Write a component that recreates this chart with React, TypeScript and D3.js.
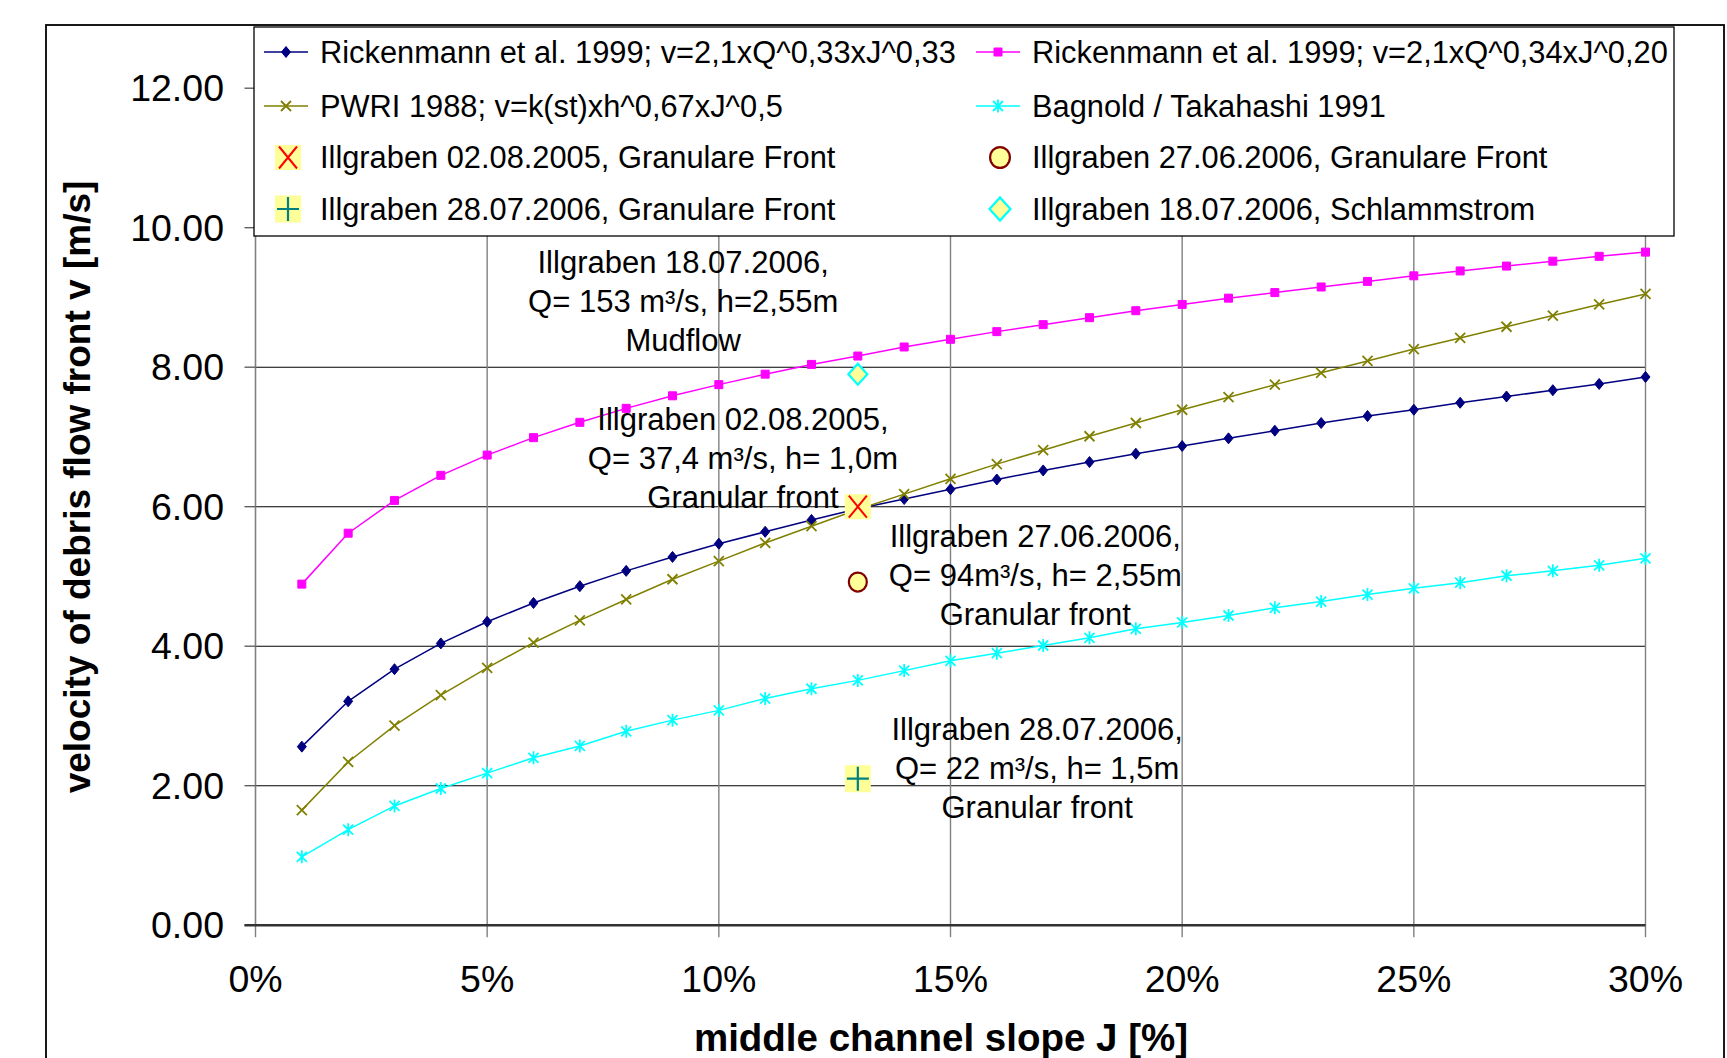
import React from 'react';
import * as d3 from 'd3';

// ---------- data ----------
const slopePct = [1, 2, 3, 4, 5, 6, 7, 8, 9, 10, 11, 12, 13, 14, 15, 16, 17, 18, 19, 20, 21, 22, 23, 24, 25, 26, 27, 28, 29, 30];
const rickenmann033 = [2.56, 3.21, 3.67, 4.04, 4.35, 4.62, 4.86, 5.08, 5.28, 5.47, 5.64, 5.81, 5.97, 6.11, 6.25, 6.39, 6.52, 6.64, 6.76, 6.87, 6.98, 7.09, 7.20, 7.30, 7.39, 7.49, 7.58, 7.67, 7.76, 7.86];
const rickenmann020 = [4.89, 5.62, 6.09, 6.45, 6.74, 6.99, 7.21, 7.41, 7.59, 7.75, 7.90, 8.04, 8.16, 8.29, 8.40, 8.51, 8.61, 8.71, 8.81, 8.90, 8.99, 9.07, 9.15, 9.23, 9.31, 9.38, 9.45, 9.52, 9.59, 9.65];
const pwri1988 = [1.65, 2.34, 2.86, 3.30, 3.69, 4.05, 4.37, 4.67, 4.96, 5.22, 5.48, 5.72, 5.96, 6.18, 6.40, 6.61, 6.81, 7.01, 7.20, 7.39, 7.57, 7.75, 7.92, 8.09, 8.26, 8.42, 8.58, 8.74, 8.90, 9.05];
const bagnoldTakahashi = [0.98, 1.37, 1.71, 1.96, 2.18, 2.40, 2.57, 2.78, 2.94, 3.08, 3.25, 3.39, 3.51, 3.65, 3.79, 3.90, 4.01, 4.12, 4.25, 4.34, 4.44, 4.55, 4.64, 4.74, 4.83, 4.91, 5.01, 5.08, 5.16, 5.26];

const eventSlopes = [13, 13, 13, 13];
const eventVelocities = [6.0, 4.92, 2.1, 7.9];
const eventNames = [
  'Illgraben 02.08.2005, Granulare Front',
  'Illgraben 27.06.2006, Granulare Front',
  'Illgraben 28.07.2006, Granulare Front',
  'Illgraben 18.07.2006, Schlammstrom',
];

const yTicks = [0, 2, 4, 6, 8, 10, 12];
const yTickLabels = ['0.00', '2.00', '4.00', '6.00', '8.00', '10.00', '12.00'];
const xTicks = [0, 5, 10, 15, 20, 25, 30];
const xTickLabels = ['0%', '5%', '10%', '15%', '20%', '25%', '30%'];

const seriesNames = [
  'Rickenmann et al. 1999; v=2,1xQ^0,33xJ^0,33',
  'Rickenmann et al. 1999; v=2,1xQ^0,34xJ^0,20',
  'PWRI 1988; v=k(st)xh^0,67xJ^0,5',
  'Bagnold / Takahashi 1991',
];

const annotationTexts = [
  ['Illgraben 18.07.2006,', 'Q= 153 m³/s, h=2,55m', 'Mudflow'],
  ['Illgraben 02.08.2005,', 'Q= 37,4 m³/s, h= 1,0m', 'Granular front'],
  ['Illgraben 27.06.2006,', 'Q= 94m³/s, h= 2,55m', 'Granular front'],
  ['Illgraben 28.07.2006,', 'Q= 22 m³/s, h= 1,5m', 'Granular front'],
];
const annotationSlopes = [9.23, 10.52, 16.83, 16.87];
const annotationVelocities = [9.51, 7.26, 5.58, 2.81];

const xTitle = 'middle channel slope J [%]';
const yTitle = 'velocity of debris flow front v [m/s]';

// ---------- layout / style ----------
const W = 1727;
const H = 1058;
const FONT = "'Liberation Sans', Arial, Helvetica, sans-serif";
const LINE_GAP = 39;

const x = d3.scaleLinear().domain([0, 30]).range([255.5, 1645.5]);
const y = d3.scaleLinear().domain([0, 12]).range([925.2, 88.2]);

type Marker = 'diamond' | 'square' | 'times' | 'asterisk';

const seriesStyles: { color: string; marker: Marker; filled: boolean }[] = [
  { color: '#000080', marker: 'diamond', filled: true },
  { color: '#FF00FF', marker: 'square', filled: true },
  { color: '#808000', marker: 'times', filled: false },
  { color: '#00FFFF', marker: 'asterisk', filled: false },
];
const seriesValues = [rickenmann033, rickenmann020, pwri1988, bagnoldTakahashi];

function markerPath(m: Marker): string {
  switch (m) {
    case 'diamond':
      return 'M0,-5.5L4.5,0L0,5.5L-4.5,0Z';
    case 'square':
      return 'M-4,-4H4V4H-4Z';
    case 'times':
      return 'M-5,-5L5,5M-5,5L5,-5';
    case 'asterisk':
      return 'M-5,-5L5,5M-5,5L5,-5M0,-6.5L0,6.5';
  }
}

function SeriesMarker({ m, color, filled }: { m: Marker; color: string; filled: boolean }) {
  return (
    <path
      d={markerPath(m)}
      fill={filled ? color : 'none'}
      stroke={color}
      strokeWidth={filled ? 1 : 1.8}
    />
  );
}

const YELLOW = '#FFFF99';

function EventMarker({ kind, scale = 1 }: { kind: number; scale?: number }) {
  const s = scale;
  if (kind === 0) {
    return (
      <g>
        <rect x={-13 * s} y={-12.5 * s} width={26 * s} height={25 * s} fill={YELLOW} />
        <path d={`M${-9 * s},${-11 * s}L${9 * s},${11 * s}M${-9 * s},${11 * s}L${9 * s},${-11 * s}`} stroke="#FF0000" strokeWidth={2} fill="none" />
      </g>
    );
  }
  if (kind === 1) {
    return <ellipse rx={9 * s} ry={9.5 * s} fill={YELLOW} stroke="#800000" strokeWidth={2.2} />;
  }
  if (kind === 2) {
    return (
      <g>
        <rect x={-13 * s} y={-13.5 * s} width={26 * s} height={27 * s} fill={YELLOW} />
        <path d={`M${-11 * s},0L${11 * s},0M0,${-12 * s}L0,${12 * s}`} stroke="#008080" strokeWidth={2.2} fill="none" />
      </g>
    );
  }
  return (
    <path
      d={`M0,${-10.5 * s}L${9.5 * s},0L0,${10.5 * s}L${-9.5 * s},0Z`}
      fill={YELLOW}
      stroke="#00FFFF"
      strokeWidth={2.2}
    />
  );
}

export default function App() {
  const line = d3
    .line<number>()
    .x((_, i) => x(slopePct[i]))
    .y((d) => y(d));

  const plotTop = y(12);
  const plotBottom = y(0);
  const plotLeft = x(0);
  const plotRight = x(30);

  // legend geometry
  const legendLeft = 254;
  const legendTop = 27;
  const legendRight = 1674;
  const legendBottom = 236;
  const rowY = [52, 106, 157.5, 209];
  const colMarkerX = [286, 998];
  const colTextX = [320, 1032];

  const legendItems: { col: number; row: number; label: string; kind: 'series' | 'event'; idx: number }[] = [
    { col: 0, row: 0, label: seriesNames[0], kind: 'series', idx: 0 },
    { col: 1, row: 0, label: seriesNames[1], kind: 'series', idx: 1 },
    { col: 0, row: 1, label: seriesNames[2], kind: 'series', idx: 2 },
    { col: 1, row: 1, label: seriesNames[3], kind: 'series', idx: 3 },
    { col: 0, row: 2, label: eventNames[0], kind: 'event', idx: 0 },
    { col: 1, row: 2, label: eventNames[1], kind: 'event', idx: 1 },
    { col: 0, row: 3, label: eventNames[2], kind: 'event', idx: 2 },
    { col: 1, row: 3, label: eventNames[3], kind: 'event', idx: 3 },
  ];

  return (
    <svg
      width={W}
      height={H}
      viewBox={`0 0 ${W} ${H}`}
      style={{ position: 'absolute', left: 0, top: 0, display: 'block', background: '#fff' }}
      fontFamily={FONT}
    >
      <rect x={0} y={0} width={W} height={H} fill="#fff" />
      {/* outer chart border */}
      <rect x={46} y={25} width={1678} height={1100} fill="none" stroke="#000" strokeWidth={1.8} />

      {/* horizontal gridlines */}
      {yTicks.slice(1).map((t) => (
        <line key={'hg' + t} x1={plotLeft} x2={plotRight} y1={y(t)} y2={y(t)} stroke="#000" strokeWidth={1.1} />
      ))}
      {/* vertical gridlines */}
      {xTicks.slice(1).map((t) => (
        <line key={'vg' + t} x1={x(t)} x2={x(t)} y1={plotTop} y2={plotBottom} stroke="#808080" strokeWidth={1.4} />
      ))}
      {/* y axis */}
      <line x1={plotLeft} x2={plotLeft} y1={plotTop} y2={plotBottom} stroke="#808080" strokeWidth={1.6} />
      {yTicks.map((t) => (
        <line key={'yt' + t} x1={plotLeft - 11} x2={plotLeft} y1={y(t)} y2={y(t)} stroke="#555" strokeWidth={1.3} />
      ))}
      {/* x axis ticks */}
      {xTicks.map((t) => (
        <line key={'xt' + t} x1={x(t)} x2={x(t)} y1={plotBottom} y2={plotBottom + 12} stroke="#808080" strokeWidth={1.4} />
      ))}
      {/* x axis line */}
      <line x1={plotLeft - 11} x2={plotRight} y1={plotBottom} y2={plotBottom} stroke="#333" strokeWidth={2.6} />

      {/* tick labels */}
      {yTicks.map((t, i) => (
        <text key={'yl' + t} x={224} y={y(t)} textAnchor="end" dominantBaseline="central" fontSize={37.5} fill="#000">
          {yTickLabels[i]}
        </text>
      ))}
      {xTicks.map((t, i) => (
        <text key={'xl' + t} x={x(t)} y={979} textAnchor="middle" dominantBaseline="central" fontSize={37.5} fill="#000">
          {xTickLabels[i]}
        </text>
      ))}

      {/* axis titles */}
      <text x={941} y={1037} textAnchor="middle" dominantBaseline="central" fontSize={38.5} fontWeight="bold" fill="#000">
        {xTitle}
      </text>
      <text
        transform={`translate(77,487) rotate(-90)`}
        textAnchor="middle"
        dominantBaseline="central"
        fontSize={37}
        fontWeight="bold"
        fill="#000"
      >
        {yTitle}
      </text>

      {/* series */}
      {seriesValues.map((vals, si) => (
        <g key={'s' + si}>
          <path d={line(vals) || ''} fill="none" stroke={seriesStyles[si].color} strokeWidth={1.5} />
          {vals.map((v, i) => (
            <g key={i} transform={`translate(${x(slopePct[i])},${y(v)})`}>
              <SeriesMarker m={seriesStyles[si].marker} color={seriesStyles[si].color} filled={seriesStyles[si].filled} />
            </g>
          ))}
        </g>
      ))}

      {/* event points */}
      {eventVelocities.map((v, i) => (
        <g key={'e' + i} transform={`translate(${x(eventSlopes[i])},${y(v)})`}>
          <EventMarker kind={i} />
        </g>
      ))}

      {/* annotations */}
      {annotationTexts.map((lines, ai) => (
        <text
          key={'a' + ai}
          textAnchor="middle"
          dominantBaseline="central"
          fontSize={31}
          fill="#000"
        >
          {lines.map((l, li) => (
            <tspan key={li} x={x(annotationSlopes[ai])} y={y(annotationVelocities[ai]) + li * LINE_GAP}>
              {l}
            </tspan>
          ))}
        </text>
      ))}

      {/* legend */}
      <rect
        x={legendLeft}
        y={legendTop}
        width={legendRight - legendLeft}
        height={legendBottom - legendTop}
        fill="#fff"
        stroke="#000"
        strokeWidth={1.3}
      />
      {legendItems.map((it, k) => {
        const cx = colMarkerX[it.col];
        const cy = rowY[it.row];
        return (
          <g key={'lg' + k}>
            {it.kind === 'series' ? (
              <g>
                <line x1={cx - 22} x2={cx + 22} y1={cy} y2={cy} stroke={seriesStyles[it.idx].color} strokeWidth={1.5} />
                <g transform={`translate(${cx},${cy})`}>
                  <SeriesMarker m={seriesStyles[it.idx].marker} color={seriesStyles[it.idx].color} filled={seriesStyles[it.idx].filled} />
                </g>
              </g>
            ) : (
              <g transform={`translate(${cx + 2},${cy})`}>
                <EventMarker kind={it.idx} scale={it.idx === 1 || it.idx === 3 ? 1.1 : 1} />
              </g>
            )}
            <text x={colTextX[it.col]} y={cy} dominantBaseline="central" fontSize={30.8} fill="#000">
              {it.label}
            </text>
          </g>
        );
      })}
    </svg>
  );
}
